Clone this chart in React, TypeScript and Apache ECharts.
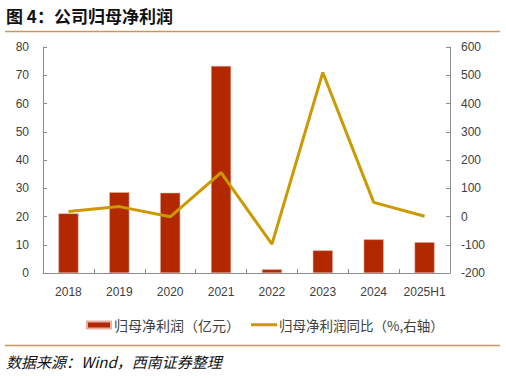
import React, { useEffect, useRef } from "react";
import * as echarts from "echarts";

const categories = ["2018", "2019", "2020", "2021", "2022", "2023", "2024", "2025H1"];
const netProfit = [21.1, 28.6, 28.4, 73.3, 1.3, 8.0, 11.9, 10.9];
const growthPct = [18, 35, -1, 155, -98, 510, 50, 1];
const leftTicks = { min: 0, max: 80, interval: 10 };
const rightTicks = { min: -200, max: 600, interval: 100 };
const barName = "归母净利润（亿元）";
const lineName = "归母净利润同比（%,右轴）";
const titleText = "图 4：公司归母净利润";
const sourceText = "数据来源：Wind，西南证券整理";

const CJK = '"Noto Sans CJK SC", "Noto Sans", sans-serif';
const NUM = '"Liberation Sans", "DejaVu Sans", sans-serif';
const AXIS_COLOR = "#8c8c8c";
const LABEL_COLOR = "#404040";

export default function App() {
  const ref = useRef<HTMLDivElement>(null);
  useEffect(() => {
    if (!ref.current) return;
    const chart = echarts.init(ref.current, undefined, { renderer: "svg" });
    const axisCommon = {
      axisLine: { show: true, lineStyle: { color: AXIS_COLOR, width: 1 } },
      axisTick: { show: true, inside: true, length: 4, lineStyle: { color: AXIS_COLOR } },
      splitLine: { show: false },
      axisLabel: { color: LABEL_COLOR, fontSize: 12, fontFamily: NUM },
    };
    chart.setOption({
      animation: false,
      backgroundColor: "#ffffff",
      grid: { left: 43, right: 56, top: 47, bottom: 105, containLabel: false },
      graphic: [
        {
          type: "text",
          left: 6,
          top: 7,
          style: { text: titleText, font: `bold 17px ${CJK}`, fill: "#111" },
        },
        {
          type: "line",
          shape: { x1: 5, y1: 31.5, x2: 500, y2: 31.5 },
          style: { stroke: "#C8965A", lineWidth: 1.5 },
        },
        {
          type: "line",
          shape: { x1: 5, y1: 345.5, x2: 500, y2: 345.5 },
          style: { stroke: "#C8965A", lineWidth: 1.5 },
        },
        {
          type: "text",
          left: 6,
          top: 354,
          style: { text: sourceText, font: `italic 15px ${CJK}`, fill: "#111" },
        },
      ],
      legend: [
        {
          left: 81,
          top: 313,
          data: [{ name: barName, icon: "rect" }],
          itemWidth: 24,
          itemHeight: 7,
          textStyle: { color: LABEL_COLOR, fontSize: 14, fontFamily: CJK, padding: [0, 0, 0, -2] },
        },
        {
          left: 246,
          top: 313,
          data: [{ name: lineName, icon: "rect" }],
          itemWidth: 26,
          itemHeight: 3,
          itemStyle: { color: "#CC9900" },
          textStyle: { color: LABEL_COLOR, fontSize: 13.5, fontFamily: CJK, padding: [0, 0, 0, -3] },
        },
      ],
      xAxis: {
        type: "category",
        data: categories,
        boundaryGap: true,
        ...axisCommon,
        axisLabel: { color: LABEL_COLOR, fontSize: 12, fontFamily: NUM, margin: 13, interval: 0 },
        axisTick: { show: true, inside: true, length: 4, alignWithLabel: false, lineStyle: { color: AXIS_COLOR } },
      },
      yAxis: [
        {
          type: "value",
          position: "left",
          min: leftTicks.min,
          max: leftTicks.max,
          interval: leftTicks.interval,
          ...axisCommon,
          axisLabel: { color: LABEL_COLOR, fontSize: 12, fontFamily: NUM, margin: 14 },
        },
        {
          type: "value",
          position: "right",
          min: rightTicks.min,
          max: rightTicks.max,
          interval: rightTicks.interval,
          ...axisCommon,
          axisLabel: { color: LABEL_COLOR, fontSize: 12, fontFamily: NUM, margin: 11 },
        },
      ],
      series: [
        {
          name: barName,
          type: "bar",
          data: netProfit,
          yAxisIndex: 0,
          barWidth: 20,
          itemStyle: { color: "#B22800", borderColor: "#e8b0a0", borderWidth: 0.5 },
        },
        {
          name: lineName,
          type: "line",
          data: growthPct,
          yAxisIndex: 1,
          symbol: "none",
          showSymbol: false,
          lineStyle: { color: "#CC9900", width: 3 },
          itemStyle: { color: "#CC9900" },
        },
      ],
    });
    return () => chart.dispose();
  }, []);
  return <div ref={ref} style={{ width: 506, height: 378, position: "absolute", left: 0, top: 0 }} />;
}
